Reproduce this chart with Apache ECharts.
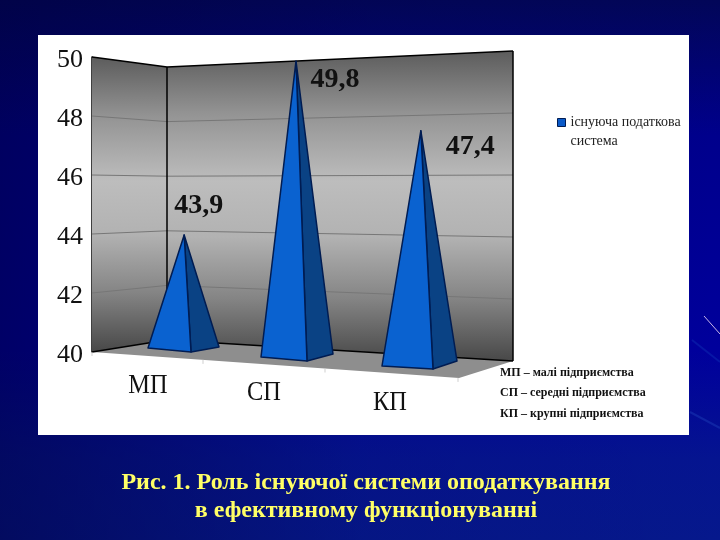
<!DOCTYPE html>
<html><head><meta charset="utf-8">
<style>html,body{margin:0;padding:0;background:#00086e}#c{width:720px;height:540px}</style>
<script src="https://cdn.jsdelivr.net/npm/echarts@6/dist/echarts.min.js"></script></head>
<body><div id="c"></div>
<script>
const categories = ['МП', 'СП', 'КП'];
const values = [43.9, 49.8, 47.4];
const yTicks = [40, 42, 44, 46, 48, 50];
const seriesName = 'існуюча податкова система';
const notes = ['МП – малі підприємства', 'СП – середні підприємства', 'КП – крупні підприємства'];
const captionLines = ['Рис. 1. Роль існуючої системи оподаткування', 'в ефективному функціонуванні'];

// Perspective layout (screen offsets only; values come from the axes)
const SERIF = '"Liberation Serif","Times New Roman",serif';
const pyramidLayout = [
  {dx:31,  base:348.5, k:0.986, fl:[148,348], mid:[191,352], r:[219,347], lab:[14.5,-29], cat:[148,386]},
  {dx:20.5,base:357.5, k:1.025, fl:[261,357], mid:[307,361], r:[333,354], lab:[39,19],   cat:[264,393]},
  {dx:23,  base:365.5, k:1.075, fl:[382,366], mid:[433,369], r:[457,361], lab:[49.5,16], cat:[390,403]}
];
const walls = {
  frontLeft:{x:92, top:57, bottom:352},
  backLeft:{x:167, top:67, bottom:340},
  backRight:{x:513, top:51, bottom:361},
  frontRight:{x:459, y:378}
};
const floorTicksX = [92, 203, 325, 458];

function wallGrad(){
  return new echarts.graphic.LinearGradient(0,0,0,1,[
    {offset:0,color:'#5c5c5c'},{offset:0.2,color:'#939393'},{offset:0.42,color:'#bdbdbd'},
    {offset:0.6,color:'#b2b2b2'},{offset:0.8,color:'#848484'},{offset:1,color:'#484848'}]);
}
function renderWalls(params, api){
  if (params.dataIndex !== 0) return {type:'group',children:[]};
  const cs = params.coordSys, W = walls, ch = [];
  const fl=W.frontLeft, bl=W.backLeft, br=W.backRight, fr=W.frontRight;
  const lerp=(c,f)=>c.bottom+(c.top-c.bottom)*f;
  const poly=(pts,style)=>({type:'polygon',shape:{points:pts},style});
  const line=(a,b,stroke,w)=>({type:'line',shape:{x1:a[0],y1:a[1],x2:b[0],y2:b[1]},style:{stroke,lineWidth:w}});
  ch.push(poly([[fl.x,fl.bottom],[bl.x,bl.bottom],[br.x,br.bottom],[fr.x,fr.y]],{fill:'#8e8e8e'}));
  ch.push(poly([[fl.x,fl.top],[bl.x,bl.top],[bl.x,bl.bottom],[fl.x,fl.bottom]],{fill:wallGrad()}));
  ch.push(poly([[bl.x,bl.top],[br.x,br.top],[br.x,br.bottom],[bl.x,bl.bottom]],{fill:wallGrad()}));
  yTicks.forEach(t=>{
    const f=(cs.y+cs.height-api.coord([0,t])[1])/cs.height;
    const black=(t===yTicks[0]||t===yTicks[yTicks.length-1]);
    const col=black?'#000':'#777', w=black?1.5:1;
    ch.push(line([fl.x,lerp(fl,f)],[bl.x,lerp(bl,f)],col,w));
    ch.push(line([bl.x,lerp(bl,f)],[br.x,lerp(br,f)],col,w));
  });
  ch.push(line([bl.x,bl.top],[bl.x,bl.bottom],'#000',1.5));
  ch.push(line([br.x,br.top],[br.x,br.bottom],'#000',1.5));
  floorTicksX.forEach(x=>{
    const y=fl.bottom+(x-fl.x)*(fr.y-fl.bottom)/(fr.x-fl.x);
    ch.push(line([x,y],[x,y+4],'#cfcfcf',1));
  });
  return {type:'group',children:ch};
}
function renderPyramid(params, api){
  const i=api.value(0), v=api.value(1), L=pyramidLayout[i], cs=params.coordSys;
  const c=api.coord([i,v]);
  const bottom=cs.y+cs.height;
  const apex=[c[0]+L.dx, L.base-(bottom-c[1])*L.k];
  const stroke='#001c52';
  return {type:'group',children:[
    {type:'polygon',shape:{points:[apex,L.mid,L.r]},style:{fill:'#0a4284',stroke,lineWidth:1.5,lineJoin:'round'}},
    {type:'polygon',shape:{points:[apex,L.fl,L.mid]},style:{fill:'#0a62d0',stroke,lineWidth:1.5,lineJoin:'round'}},
    {type:'text',style:{x:apex[0]+L.lab[0],y:apex[1]+L.lab[1],text:String(v).replace('.',','),
      font:'bold 28px '+SERIF,fill:'#111',align:'center',verticalAlign:'middle'}},
    {type:'text',x:L.cat[0],y:L.cat[1],scaleX:0.87,style:{x:0,y:0,text:categories[i],
      font:'28px '+SERIF,fill:'#111',align:'center',verticalAlign:'middle'}}
  ]};
}
const graphicEls = [
  {type:'rect',z:-12,shape:{x:0,y:0,width:720,height:540},style:{
    fill:new echarts.graphic.LinearGradient(0,0,1,0,[
      {offset:0,color:'rgba(0,0,60,0.55)'},{offset:0.5,color:'rgba(0,0,60,0.1)'},{offset:1,color:'rgba(0,0,60,0)'}])}},
  {type:'rect',z:-10,shape:{x:38,y:35,width:651,height:400},style:{fill:'#fff'}},
  {type:'line',z:-9,shape:{x1:704,y1:316,x2:720,y2:334},style:{stroke:'#c9b8e8',lineWidth:1}},
  {type:'line',z:-9,shape:{x1:692,y1:340,x2:720,y2:362},style:{stroke:'#1030b4',lineWidth:2,opacity:.45}},
  {type:'line',z:-9,shape:{x1:690,y1:412,x2:720,y2:428},style:{stroke:'#2040b8',lineWidth:2,opacity:.45}}
];
notes.forEach((t,i)=>graphicEls.push({type:'text',z:20,style:{x:500,y:[373,393,414][i],text:t,
  font:'bold 12px '+SERIF,fill:'#111',align:'left',verticalAlign:'middle'}}));
captionLines.forEach((t,i)=>graphicEls.push({type:'text',z:20,style:{x:366,y:[483,511][i],text:t,
  font:'bold 24px '+SERIF,fill:'#ffff66',align:'center',verticalAlign:'middle',
  shadowColor:'#000030',shadowBlur:2,shadowOffsetX:1,shadowOffsetY:1}}));

const chart = echarts.init(document.getElementById('c'),null,{renderer:'canvas'});
chart.setOption({
  animation:false,
  backgroundColor:new echarts.graphic.LinearGradient(0,0,0,1,[
    {offset:0,color:'#020658'},{offset:0.25,color:'#00008c'},{offset:0.65,color:'#00009c'},
    {offset:0.85,color:'#051490'},{offset:1,color:'#06188c'}]),
  grid:{left:92,right:261,top:57,bottom:188},
  graphic:graphicEls,
  legend:{left:552,top:89,orient:'vertical',selectedMode:false,icon:'rect',itemWidth:8,itemHeight:8,itemGap:3,
    data:[{name:seriesName,itemStyle:{color:'#0a5ac8',borderColor:'#001c52',borderWidth:1}}],
    formatter:()=>'\nіснуюча податкова\nсистема',
    textStyle:{fontFamily:SERIF,fontSize:14,lineHeight:19,color:'#222'}},
  xAxis:{type:'category',data:categories,axisLabel:{show:false},axisTick:{show:false},axisLine:{show:false}},
  yAxis:{type:'value',min:40,max:50,interval:2,
    axisLine:{show:true,lineStyle:{color:'#000',width:1.5}},
    axisTick:{show:false},splitLine:{show:false},
    axisLabel:{margin:9,formatter:'{a|{value}}',
      rich:{a:{fontFamily:SERIF,fontSize:26,color:'#111',padding:[7,0,0,0]}}}},
  series:[
    {type:'custom',name:'walls',coordinateSystem:'cartesian2d',silent:true,z:1,clip:false,
     data:categories.map((c,i)=>[c,values[i]]),encode:{x:0,y:1},renderItem:renderWalls},
    {type:'custom',name:seriesName,coordinateSystem:'cartesian2d',z:3,clip:false,
     data:categories.map((c,i)=>[c,values[i]]),encode:{x:0,y:1},renderItem:renderPyramid}
  ]
});
</script></body></html>
